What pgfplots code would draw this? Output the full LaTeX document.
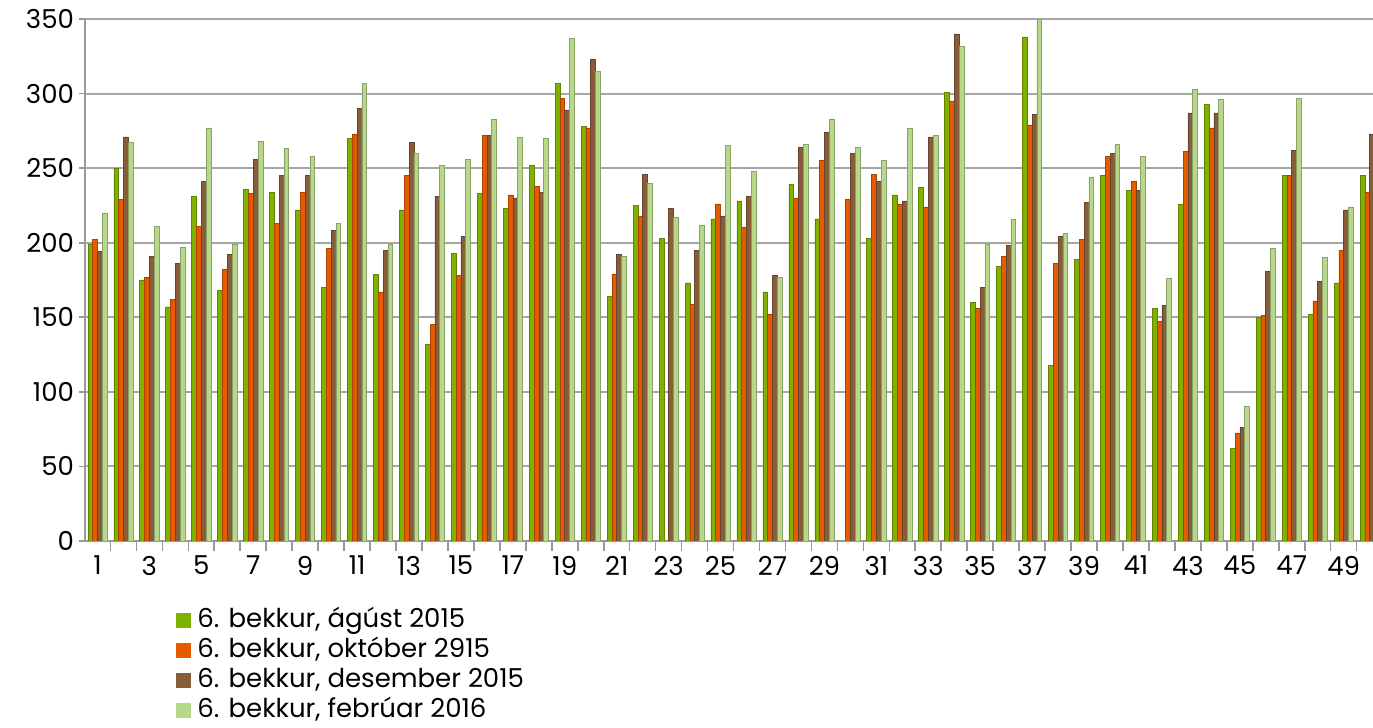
\documentclass[border=0pt]{standalone}
\usepackage{fontspec}
\setmainfont{Poppins}
\usepackage{pgfplots}
\usepackage{pgfplotstable}
\pgfplotsset{compat=1.18}
\definecolor{cA}{RGB}{128,176,0}
\definecolor{cB}{RGB}{230,90,0}
\definecolor{cC}{RGB}{135,93,58}
\definecolor{cD}{RGB}{183,216,138}
\pgfplotstableread{
x a b c d
1 199 202 194 220
2 250 229 271 267
3 175 177 191 211
4 157 162 186 197
5 231 211 241 277
6 168 182 192 199
7 236 233 256 268
8 234 213 245 263
9 222 234 245 258
10 170 196 208 213
11 270 273 290 307
12 179 167 195 199
13 222 245 267 260
14 132 145 231 252
15 193 178 204 256
16 233 272 272 283
17 223 232 230 271
18 252 238 234 270
19 307 297 289 337
20 278 277 323 315
21 164 179 192 191
22 225 218 246 240
23 203 0 223 217
24 173 159 195 212
25 216 226 218 265
26 228 210 231 248
27 167 152 178 177
28 239 230 264 266
29 216 255 274 283
30 0 229 260 264
31 203 246 241 255
32 232 226 228 277
33 237 224 271 272
34 301 295 340 332
35 160 156 170 199
36 184 191 198 216
37 338 279 286 350
38 118 186 204 206
39 189 202 227 244
40 245 258 260 266
41 235 241 235 258
42 156 147 158 176
43 226 261 287 303
44 293 277 287 296
45 62 72 76 90
46 150 151 181 196
47 245 245 262 297
48 152 161 174 190
49 173 195 222 224
50 245 234 273 276
}\data
\begin{document}
\fontsize{13}{16}\selectfont
\begin{tikzpicture}
\begin{axis}[
  scale only axis,
  width=644pt, height=261pt,
  xmin=0.52, xmax=50.13,
  ymin=0, ymax=350,
  ybar=0pt, bar width=2.4pt,
  axis x line*=bottom, axis y line*=left,
  axis line style={draw=gray!80, line width=1pt},
  xtick={1,3,...,49},
  major x tick style={draw=none},
  minor xtick={1.5,2.5,...,49.5},
  minor x tick style={draw=gray!80, line width=0.8pt},
  minor tick length=5pt,
  ytick={0,50,...,350},
  major y tick style={draw=gray!80, line width=0.8pt},
  major tick length=3pt,
  tick align=outside,
  ymajorgrids,
  grid style={draw=gray!70, line width=1pt},
  /pgf/number format/assume math mode=true,
  ticklabel style={font=\fontsize{13}{15}\selectfont},
  yticklabel style={xshift=2pt},
  legend style={at={(0,0)}, anchor=north west, xshift=45.5pt, yshift=-34pt,
    draw=none, fill=none, inner sep=0pt, row sep=3pt,
    nodes={inner sep=0pt, text height=9pt, text depth=3pt, anchor=west},
    font=\fontsize{13}{15}\selectfont,
    /tikz/every odd column/.style={column sep=3pt}},
  legend cell align=left,
  legend image code/.code={\fill[#1, draw=none] (0pt,-3.5pt) rectangle (7.5pt,4pt);},
]
\addplot[fill=cA, draw=cA!75!black, line width=0.3pt] table[x=x,y=a]{\data};
\addplot[fill=cB, draw=cB!75!black, line width=0.3pt] table[x=x,y=b]{\data};
\addplot[fill=cC, draw=cC!75!black, line width=0.3pt] table[x=x,y=c]{\data};
\addplot[fill=cD, draw=cD!75!black, line width=0.3pt] table[x=x,y=d]{\data};
\legend{{6. bekkur, ágúst 2015},{6. bekkur, október 2915},{6. bekkur, desember 2015},{6. bekkur, febrúar 2016}}
\end{axis}
\pgfresetboundingbox
\path[use as bounding box] ([xshift=-42.5pt,yshift=-93.5pt]current axis.south west) rectangle ([yshift=9.5pt]current axis.north east);
\end{tikzpicture}
\end{document}
